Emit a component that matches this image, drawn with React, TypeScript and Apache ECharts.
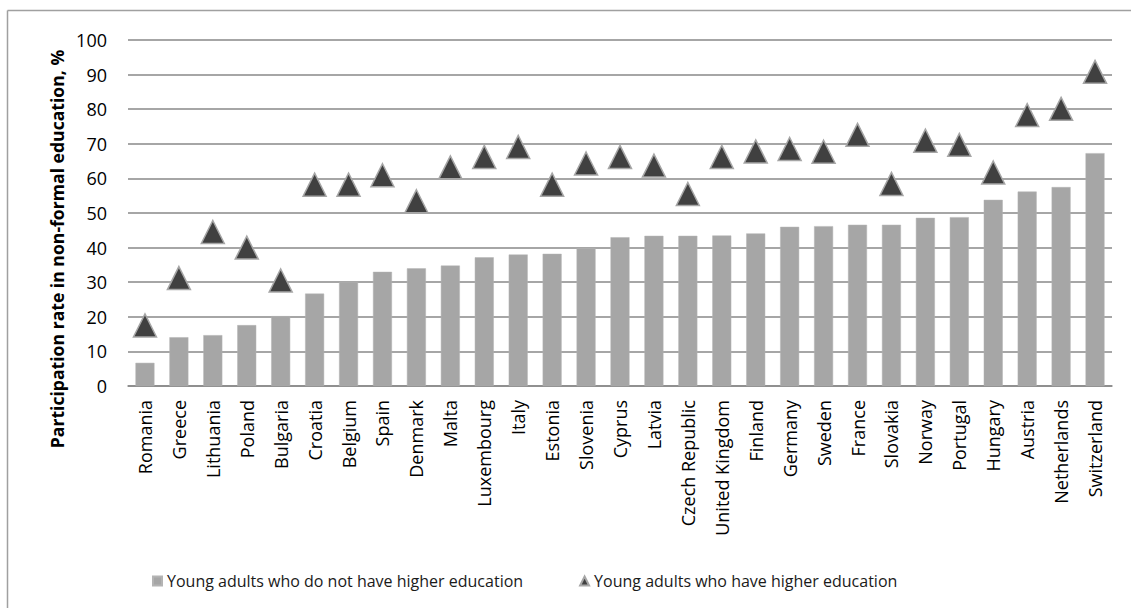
import React, { useEffect, useRef } from "react";
import * as echarts from "echarts";

const countries = [
  "Romania", "Greece", "Lithuania", "Poland", "Bulgaria", "Croatia", "Belgium", "Spain",
  "Denmark", "Malta", "Luxembourg", "Italy", "Estonia", "Slovenia", "Cyprus", "Latvia",
  "Czech Republic", "United Kingdom", "Finland", "Germany", "Sweden", "France", "Slovakia",
  "Norway", "Portugal", "Hungary", "Austria", "Netherlands", "Switzerland",
];

const noHigherEd = [
  6.7, 14.1, 14.7, 17.6, 20.2, 26.7, 30.1, 33.0, 34.0, 34.8, 37.2, 38.0, 38.2, 39.8, 43.0,
  43.4, 43.4, 43.5, 44.1, 46.0, 46.2, 46.6, 46.6, 48.6, 48.8, 53.8, 56.2, 57.5, 67.3,
];

const higherEd = [
  17.5, 31.2, 44.5, 40.0, 30.5, 58.2, 58.2, 60.9, 53.4, 63.2, 66.2, 69.1, 58.2, 64.3, 66.2,
  63.7, 55.5, 66.2, 67.8, 68.5, 67.7, 72.6, 58.4, 70.9, 69.7, 61.7, 78.3, 80.1, 90.8,
];

const seriesNames = [
  "Young adults who do not have higher education",
  "Young adults who have higher education",
];

const yAxisTitle = "Participation rate in non-formal education, %";

export default function App() {
  const ref = useRef<HTMLDivElement>(null);

  useEffect(() => {
    if (!ref.current) return;
    const chart = echarts.init(ref.current, undefined, { renderer: "svg" });
    chart.setOption({
      animation: false,
      backgroundColor: "#ffffff",
      textStyle: { fontFamily: "Open Sans" },
      graphic: [
        { type: "line", shape: { x1: 7.5, y1: 10.5, x2: 1131, y2: 10.5 }, style: { stroke: "#a0a0a0", lineWidth: 1.5 } },
        { type: "line", shape: { x1: 7.5, y1: 10.5, x2: 7.5, y2: 608 }, style: { stroke: "#a0a0a0", lineWidth: 1.5 } },
        {
          type: "text",
          x: 57,
          y: 249,
          rotation: Math.PI / 2,
          style: {
            text: yAxisTitle,
            align: "center",
            verticalAlign: "middle",
            fontFamily: "Open Sans",
            fontSize: 17.6,
            fontWeight: "bold",
            fill: "#000000",
          },
        },
      ],
      grid: { left: 128, right: 19, top: 40, bottom: 222, containLabel: false },
      legend: {
        left: 147,
        top: 568,
        itemGap: 56,
        itemWidth: 9,
        itemHeight: 9,
        textStyle: { fontFamily: "Open Sans", fontSize: 16, color: "#1a1a1a" },
        data: [
          { name: seriesNames[0], icon: "rect" },
          { name: seriesNames[1], icon: "triangle" },
        ],
      },
      xAxis: {
        type: "category",
        data: countries,
        axisLine: { lineStyle: { color: "#888888", width: 1.5 } },
        axisTick: { show: false },
        axisLabel: {
          rotate: 90,
          interval: 0,
          margin: 14,
          fontSize: 18,
          color: "#000000",
          fontFamily: "Open Sans",
        },
      },
      yAxis: {
        type: "value",
        min: 0,
        max: 100,
        interval: 10,
        axisLine: { show: false },
        axisTick: { show: false },
        axisLabel: { fontSize: 18, margin: 21, color: "#000000", fontFamily: "Open Sans" },
        splitLine: { lineStyle: { color: "#888888", width: 1.5 } },
      },
      series: [
        {
          name: seriesNames[0],
          type: "bar",
          data: noHigherEd,
          barWidth: 19,
          itemStyle: { color: "#a6a6a6", borderColor: "#b4b4b4", borderWidth: 0.5 },
        },
        {
          name: seriesNames[1],
          type: "scatter",
          data: higherEd,
          symbol: "triangle",
          symbolSize: 23,
          itemStyle: { color: "#404040", borderColor: "#a6a6a6", borderWidth: 1.5, opacity: 1 },
        },
      ],
    });
    return () => chart.dispose();
  }, []);

  return (
    <div
      ref={ref}
      style={{ position: "fixed", left: 0, top: 0, width: 1131, height: 608 }}
    />
  );
}
